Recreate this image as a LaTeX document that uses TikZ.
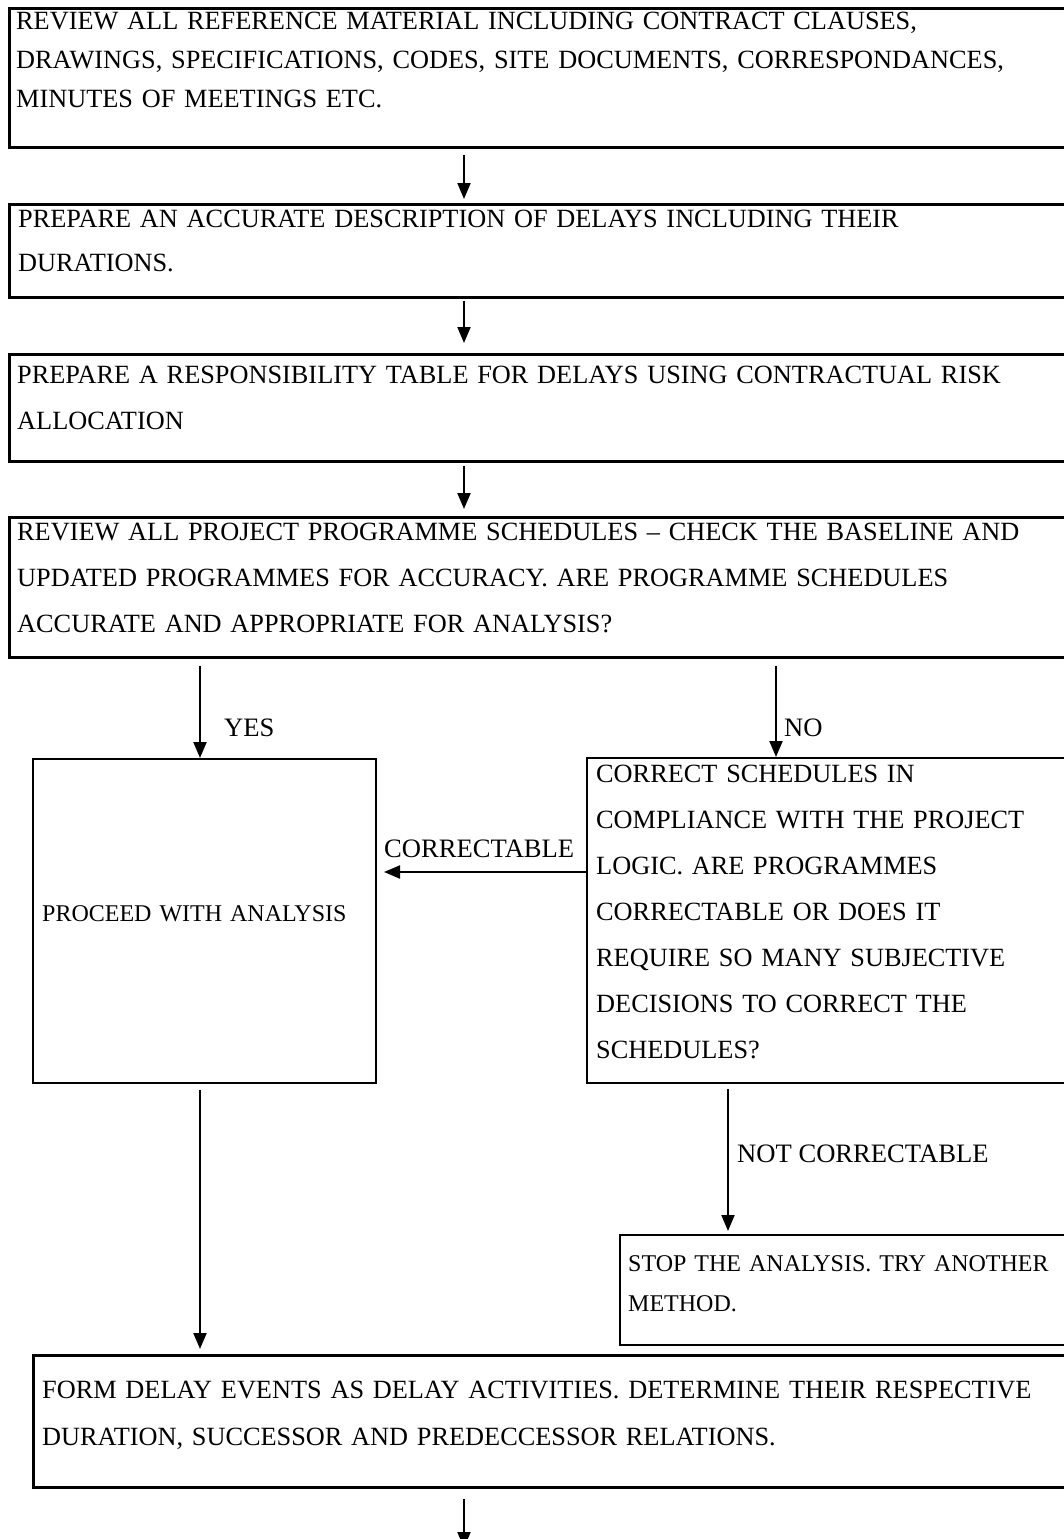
\documentclass[tikz,border=0pt]{standalone}
\usepackage{fontspec}
\setmainfont{Liberation Serif}
\usetikzlibrary{arrows.meta}
\begin{document}
\begin{tikzpicture}[x=1pt,y=-1pt,
  frame/.style={draw, line width=2.5pt, rectangle, inner sep=0pt, anchor=north west},
  thinframe/.style={frame, line width=2pt},
  body/.style={anchor=base west, inner sep=0pt, text width=1300pt, align=left,
    font=\fontsize{26.3}{46}\selectfont},
  smallbody/.style={body, font=\fontsize{24}{40}\selectfont},
  lbl/.style={anchor=base west, inner sep=0pt, font=\fontsize{26.6}{32}\selectfont},
  arr/.style={line width=2pt, -{Triangle[length=16pt,width=13pt]}}
]
\useasboundingbox (0,0) rectangle (1063,1539);
\fill[white] (0,0) rectangle (1063,1539);

% column positions of the connectors
\coordinate (mid) at (464,0);
\coordinate (lft) at (200,0);
\coordinate (rgt) at (776,0);
\coordinate (nc)  at (728,0);
\coordinate (cy)  at (0,872);

% main chain of boxes
\node[frame, minimum width=1067pt, minimum height=139pt] (b1) at (8,7) {};
\node[body, font=\fontsize{26.3}{39}\selectfont] (t1) at (16,29)
  {REVIEW ALL REFERENCE MATERIAL INCLUDING CONTRACT CLAUSES,\\
   DRAWINGS, SPECIFICATIONS, CODES, SITE DOCUMENTS, CORRESPONDANCES,\\
   MINUTES OF MEETINGS ETC.};

\node[frame, minimum width=1067pt, minimum height=93pt] (b2) at (8,203) {};
\node[body, font=\fontsize{26.3}{44}\selectfont] (t2) at (18,227)
  {PREPARE AN ACCURATE DESCRIPTION OF DELAYS INCLUDING THEIR\\
   DURATIONS.};

\node[frame, minimum width=1067pt, minimum height=107pt] (b3) at (8,353) {};
\node[body, font=\fontsize{26.3}{46}\selectfont] (t3) at (17,383)
  {PREPARE A RESPONSIBILITY TABLE FOR DELAYS USING CONTRACTUAL RISK\\
   ALLOCATION};

\node[frame, minimum width=1067pt, minimum height=140pt] (b4) at (8,516) {};
\node[body] (t4) at (17,540)
  {REVIEW ALL PROJECT PROGRAMME SCHEDULES -- CHECK THE BASELINE AND\\
   UPDATED PROGRAMMES FOR ACCURACY. ARE PROGRAMME SCHEDULES\\
   ACCURATE AND APPROPRIATE FOR ANALYSIS?};

% the two branches
\node[thinframe, minimum width=343pt, minimum height=324pt] (pa) at (32,758) {};
\node[smallbody] (tpa) at (42,921) {PROCEED WITH ANALYSIS};

\node[thinframe, minimum width=489pt, minimum height=325pt] (cs) at (586,757) {};
\node[body] (tcs) at (596,782)
  {CORRECT SCHEDULES IN\\
   COMPLIANCE WITH THE PROJECT\\
   LOGIC. ARE PROGRAMMES\\
   CORRECTABLE OR DOES IT\\
   REQUIRE SO MANY SUBJECTIVE\\
   DECISIONS TO CORRECT THE\\
   SCHEDULES?};

\node[thinframe, minimum width=456pt, minimum height=110pt] (st) at (619,1234) {};
\node[smallbody] (tst) at (628,1271)
  {STOP THE ANALYSIS. TRY ANOTHER\\
   METHOD.};

\node[frame, minimum width=1043pt, minimum height=132pt] (fd) at (32,1354) {};
\node[body, font=\fontsize{26.3}{47}\selectfont] (tfd) at (42,1398)
  {FORM DELAY EVENTS AS DELAY ACTIVITIES. DETERMINE THEIR RESPECTIVE\\
   DURATION, SUCCESSOR AND PREDECCESSOR RELATIONS.};
\coordinate (endp) at (464,1548);

% connectors
\draw[arr, shorten <=6pt, shorten >=4pt] (b1.south -| mid) -- (b2.north -| mid);
\draw[arr, shorten <=2pt, shorten >=10pt] (b2.south -| mid) -- (b3.north -| mid);
\draw[arr, shorten <=3pt, shorten >=7pt] (b3.south -| mid) -- (b4.north -| mid);
\draw[arr, shorten <=7pt] (b4.south -| lft) -- (pa.north -| lft);
\draw[arr, shorten <=7pt] (b4.south -| rgt) -- (cs.north -| rgt);
\draw[arr, shorten >=7pt] (cs.west |- cy) -- (pa.east |- cy);
\draw[arr, shorten <=6pt, shorten >=5pt] (pa.south -| lft) -- (fd.north -| lft);
\draw[arr, shorten <=5pt, shorten >=3pt] (cs.south -| nc) -- (st.north -| nc);
\draw[arr, shorten <=10pt] (fd.south -| mid) -- (endp);

% connector labels
\node[lbl] (yes) at (224,736) {YES};
\node[lbl] (no) at (784,736) {NO};
\node[lbl] (cor) at (384,857) {CORRECTABLE};
\node[lbl] (ncor) at (737,1162) {NOT CORRECTABLE};
\end{tikzpicture}
\end{document}
